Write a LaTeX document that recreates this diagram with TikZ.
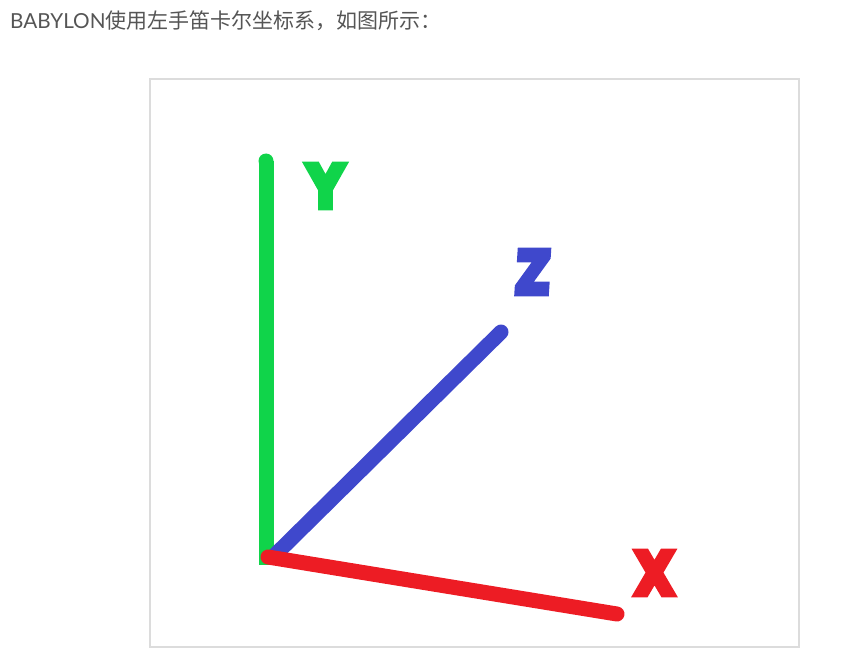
\documentclass[tikz,border=0pt]{standalone}
\usepackage{fontspec}
\setmainfont{Lato}
\newfontfamily\cjk{Noto Sans CJK SC}
\newfontfamily\heavy[FakeBold=11]{DejaVu Sans Bold}
\definecolor{axgreen}{HTML}{10D44A}
\definecolor{axblue}{HTML}{3F48CC}
\definecolor{axred}{HTML}{ED1C24}
\definecolor{frameg}{HTML}{DCDCDC}
\definecolor{txt}{HTML}{555555}
\tikzset{
  axisline/.style={line width=15pt},
  axislabel/.style={inner sep=0pt,anchor=center,font=\heavy\fontsize{58}{58}\selectfont}
}
\begin{document}
\begin{tikzpicture}[x=1pt,y=-1pt]
\useasboundingbox (0,0) rectangle (861,655);
\node[anchor=base west,inner sep=0pt,text=txt,font=\fontsize{20.7}{24}\selectfont] (title) at (10,29) {BABYLON{\cjk\fontsize{21}{24}\selectfont 使用左手笛卡尔坐标系，如图所示：}};
\node[draw=frameg,line width=2pt,minimum width=649pt,minimum height=567pt,inner sep=0pt] (frame) at (474.5,363) {};
\coordinate (o) at (266,565);
\coordinate (ytip) at (266,161);
\coordinate (zs) at (275,555);
\coordinate (ztip) at (501,332);
\coordinate (xs) at (268,557);
\coordinate (xtip) at (617,614);
\draw[axisline,axgreen] (ytip) -- (o);
\fill[axgreen] (ytip) circle (7.5pt);
\draw[axisline,axblue,line cap=round] (zs) -- (ztip);
\draw[axisline,axred,line cap=round] (xs) -- (xtip);
\node[axislabel,text=axgreen,xscale=.86] (ylab) at (325.5,186) {Y};
\node[axislabel,text=axblue,xscale=.8,xslant=.08] (zlab) at (533,272) {Z};
\node[axislabel,text=axred,xscale=.86] (xlab) at (654.5,573) {X};
\end{tikzpicture}
\end{document}
